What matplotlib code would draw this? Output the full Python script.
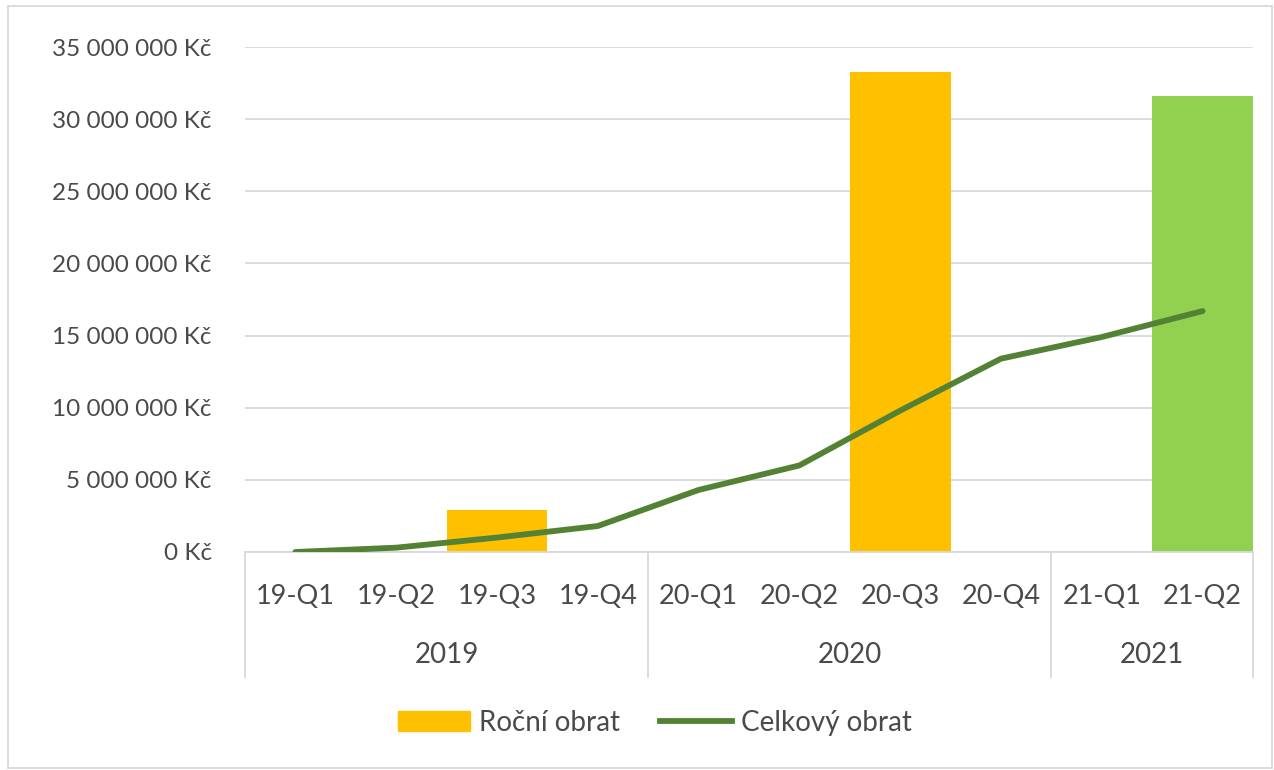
import numpy as np
import matplotlib
matplotlib.use("Agg")
import matplotlib.pyplot as plt
import matplotlib.patches as mpatches
import matplotlib.lines as mlines
import matplotlib.transforms as mtransforms
from matplotlib.ticker import FuncFormatter, MultipleLocator

plt.rcParams['font.family'] = ['Lato', 'DejaVu Sans']

# data
quarters = ["19-Q1", "19-Q2", "19-Q3", "19-Q4", "20-Q1", "20-Q2", "20-Q3", "20-Q4", "21-Q1", "21-Q2"]
years = ["2019", "2020", "2021"]
quarters_per_year = [4, 4, 2]
rocni_obrat = [np.nan, np.nan, 2900000, np.nan, np.nan, np.nan, 33300000, np.nan, np.nan, 31600000]
celkovy_obrat = [0, 300000, 1000000, 1800000, 4300000, 6000000, 9800000, 13400000, 14900000, 16700000]

yellow = "#FFC000"
light_green = "#92D050"
dark_green = "#548235"
bar_colors = [yellow] * 9 + [light_green]
text_col = "#4A4A4A"
grid_col = "#D9D9D9"

W, H = 1274, 770
fig = plt.figure(figsize=(W / 100, H / 100), dpi=100)
ax = fig.add_axes([245 / W, (H - 552) / H, (1253 - 245) / W, (552 - 47) / H])

x = np.arange(len(quarters))
ax.bar(x, rocni_obrat, width=1.0, color=bar_colors, zorder=2)
ax.plot(x, celkovy_obrat, color=dark_green, lw=4.2, solid_capstyle='round', zorder=3)

ax.set_xlim(-0.5, len(quarters) - 0.5)
ax.set_ylim(0, 35000000)
ax.yaxis.set_major_locator(MultipleLocator(5000000))
ax.yaxis.set_major_formatter(FuncFormatter(lambda v, p: "{:,.0f} Kč".format(v).replace(",", " ")))
ax.yaxis.grid(True, color=grid_col, lw=1.3, zorder=0)
ax.set_axisbelow(True)
ax.tick_params(axis='y', length=0, pad=24, labelsize=17.5, labelcolor=text_col)
ax.set_xticks([])
for s in ["top", "right", "left"]:
    ax.spines[s].set_visible(False)
ax.spines["bottom"].set_color(grid_col)
ax.spines["bottom"].set_linewidth(1.3)

# two-level category axis
trans = mtransforms.blended_transform_factory(ax.transData, ax.transAxes)
for i, q in enumerate(quarters):
    ax.text(i, -0.089, q, transform=trans, ha='center', va='center', fontsize=19.5, color=text_col)

bounds = np.concatenate([[0], np.cumsum(quarters_per_year)]) - 0.5
for b in bounds:
    ax.plot([b, b], [0, -0.248], transform=trans, color=grid_col, lw=1.3, clip_on=False)
for j, yr in enumerate(years):
    ax.text((bounds[j] + bounds[j + 1]) / 2, -0.204, yr, transform=trans, ha='center', va='center',
            fontsize=20, color=text_col)

# legend
h1 = mpatches.Patch(color=yellow, label="Roční obrat")
h2 = mlines.Line2D([], [], color=dark_green, lw=4.2, label="Celkový obrat")
fig.legend(handles=[h1, h2], loc='center', bbox_to_anchor=(0.514, (H - 723) / H), ncol=2, frameon=False,
           fontsize=20, labelcolor=text_col, handlelength=2.6, handleheight=0.75, columnspacing=1.45,
           handletextpad=0.3)

# outer chart border
fig.patches.append(mpatches.Rectangle((8 / W, 2 / H), (W - 10) / W, (H - 8) / H, transform=fig.transFigure,
                                      fill=False, edgecolor=grid_col, lw=1.3))

fig.savefig("out.png", dpi=100, facecolor="white")
